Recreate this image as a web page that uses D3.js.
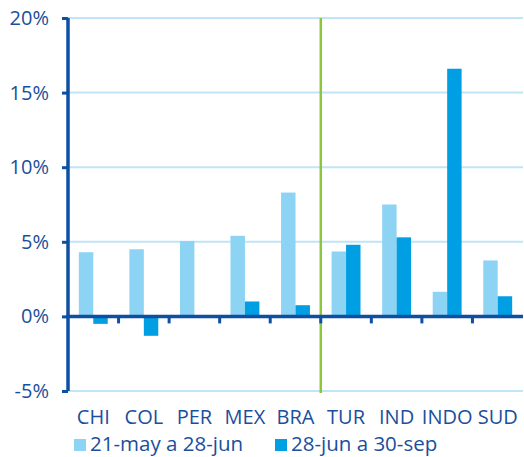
<!DOCTYPE html>
<html>
<head>
<meta charset="utf-8">
<script src="https://cdn.jsdelivr.net/npm/d3@7"></script>
<style>
  body { margin: 0; background: #fff; }
  text { font-family: "Open Sans", sans-serif; fill: #1a4f9c; }
</style>
</head>
<body>
<div id="chart"></div>
<script>
// data
var categories = ["CHI", "COL", "PER", "MEX", "BRA", "TUR", "IND", "INDO", "SUD"]
var seriesNames = ["21-may a 28-jun", "28-jun a 30-sep"]
var may_jun = [4.3, 4.5, 5.05, 5.4, 8.3, 4.35, 7.5, 1.65, 3.75]
var jun_sep = [-0.5, -1.3, 0, 1.0, 0.75, 4.8, 5.3, 16.6, 1.35]
var yTicks = [-5, 0, 5, 10, 15, 20]

var width = 524,
    height = 457

var colors = ["#8dd3f4", "#009fe3"]
var axisColor = "#0d4fa3"

var svg = d3.select("#chart")
  .append("svg")
    .attr("width", width)
    .attr("height", height)

var x = d3.scaleBand()
  .domain(categories)
  .range([68, 523])

var x1 = d3.scaleBand()
  .domain([0, 1])
  .range([0, x.bandwidth()])
  .paddingInner(0)
  .paddingOuter(0.75)

var y = d3.scaleLinear()
  .domain([-5, 20])
  .range([391, 18])

// gridlines
svg.selectAll("grid")
  .data(yTicks.filter(function(d) { return d != 0 }))
  .enter()
  .append("line")
    .attr("x1", 68)
    .attr("x2", 523)
    .attr("y1", function(d) { return y(d) })
    .attr("y2", function(d) { return y(d) })
    .attr("stroke", "#bfe5f6")
    .attr("stroke-width", 2)

// bars
var rows = categories.map(function(c, i) { return {cat: c, vals: [may_jun[i], jun_sep[i]]} })
var groups = svg.selectAll("groups")
  .data(rows)
  .enter()
  .append("g")
    .attr("transform", function(d) { return "translate(" + x(d.cat) + ",0)" })

groups.selectAll("rect")
  .data(function(d) { return d.vals.map(function(v, i) { return {i: i, v: v} }) })
  .enter()
  .append("rect")
    .attr("x", function(d) { return x1(d.i) })
    .attr("width", x1.bandwidth())
    .attr("y", function(d) { return y(Math.max(0, d.v)) })
    .attr("height", function(d) { return Math.abs(y(d.v) - y(0)) })
    .attr("fill", function(d) { return colors[d.i] })

// green separator between BRA and TUR
svg.append("line")
  .attr("x1", x("TUR"))
  .attr("x2", x("TUR"))
  .attr("y1", y(20))
  .attr("y2", y(-5) + 2)
  .attr("stroke", "#8cc63e")
  .attr("stroke-width", 2.5)

// y axis
var yAxis = svg.append("g")
  .attr("transform", "translate(68,0)")
  .call(d3.axisLeft(y).tickValues(yTicks).tickSize(6).tickFormat(function(d) { return d + "%" }))
yAxis.select(".domain").attr("stroke", axisColor).attr("stroke-width", 3.5)
  .attr("d", "M0," + y(20) + "V" + y(-5))
yAxis.selectAll(".tick line").attr("stroke", axisColor).attr("stroke-width", 3)
yAxis.selectAll(".tick text")
  .attr("x", -19)
  .style("font-size", "20px")
  .style("font-family", "'Open Sans', sans-serif")
  .attr("fill", "#1a4f9c")

// x axis at zero
var xAxis = svg.append("g")
  .attr("transform", "translate(0," + y(0) + ")")
xAxis.append("line")
  .attr("x1", 66)
  .attr("x2", 523)
  .attr("stroke", axisColor)
  .attr("stroke-width", 3.5)
xAxis.selectAll("xticks")
  .data(categories.slice(1))
  .enter()
  .append("line")
    .attr("x1", function(d) { return x(d) })
    .attr("x2", function(d) { return x(d) })
    .attr("y1", 0)
    .attr("y2", 7)
    .attr("stroke", axisColor)
    .attr("stroke-width", 3)

// category labels
svg.selectAll("catLabels")
  .data(categories)
  .enter()
  .append("text")
    .attr("x", function(d) { return x(d) + x.bandwidth() / 2 })
    .attr("y", 424)
    .attr("text-anchor", "middle")
    .style("font-size", "20px")
    .text(function(d) { return d })

// legend
var legendX = [74, 275]
var legend = svg.selectAll("legend")
  .data(seriesNames)
  .enter()
  .append("g")
    .attr("transform", function(d, i) { return "translate(" + legendX[i] + ",439)" })
legend.append("rect")
  .attr("width", 12)
  .attr("height", 12)
  .attr("fill", function(d, i) { return colors[i] })
legend.append("text")
  .attr("x", 16)
  .attr("y", 12)
  .style("font-size", "20.5px")
  .text(function(d) { return d })
</script>
</body>
</html>
